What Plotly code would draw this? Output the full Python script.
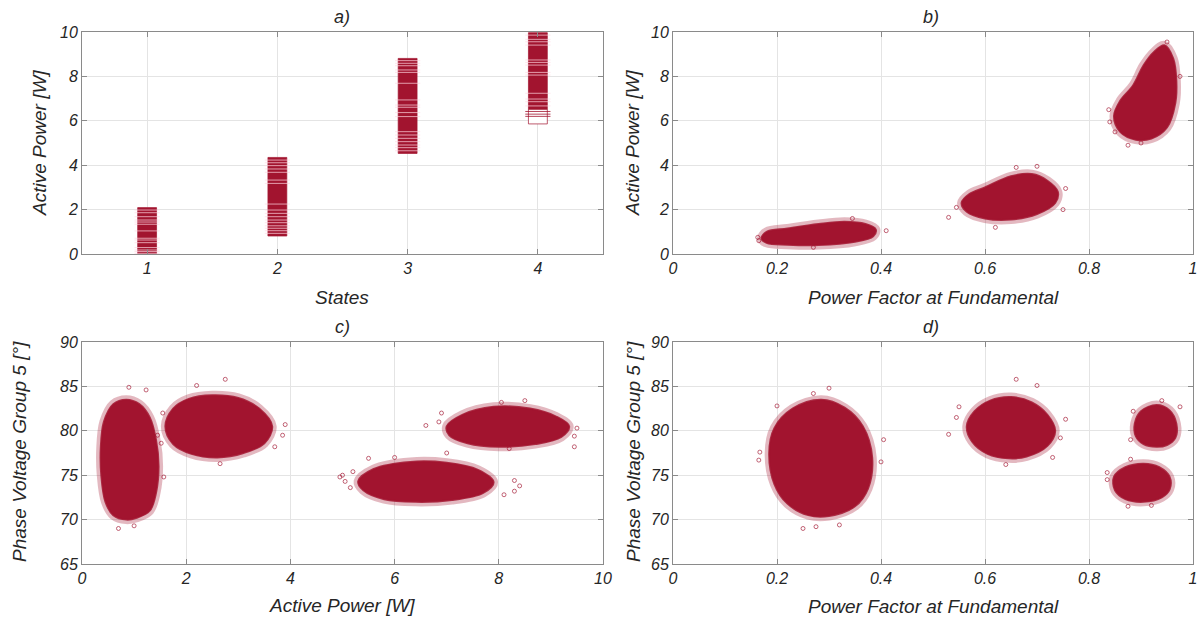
import plotly.graph_objects as go

RED = "rgb(162,20,47)"
FRINGE = "rgba(162,20,47,0.30)"
OUT = "rgba(162,20,47,0.65)"
FONT = "Liberation Sans"
TXT = "#262626"

# ---------------- panel a: states vs active power ----------------
states = [1, 2, 3, 4]
state_min = [-0.09, 0.81, 4.53, 5.86]
state_max = [2.09, 4.35, 8.81, 9.97]
dense_lo = [-0.09, 0.81, 4.53, 6.5]
dense_hi = [2.09, 4.35, 8.81, 9.97]
gap_state = [1]*14 + [2]*17 + [3]*18 + [4]*13
gap_value = [1.98, 1.86, 1.68, 1.53, 1.44, 1.34, 1.04, 0.71, 0.63, 0.51, 0.29, 0.18, 0.11, 0.03,
             4.23, 4.11, 3.98, 3.83, 3.68, 3.33, 3.18, 2.25, 1.98, 1.83, 1.68, 1.53, 1.41, 1.27, 1.16, 1.05, 0.93,
             8.71, 8.59, 8.48, 8.29, 8.18, 7.69, 6.94, 6.71, 6.61, 6.37, 6.19, 5.51, 5.36, 5.21, 5.06, 4.91, 4.79, 4.65,
             9.86, 9.67, 9.56, 9.41, 8.74, 8.63, 8.51, 8.18, 8.06, 7.24, 6.98, 6.86, 6.67]
sparse_state = [4, 4, 4]
sparse_value = [6.42, 6.3, 6.2]

# ---------------- panel b: PF vs active power (cluster outlines) ----------------
b_clusters = {
    "b1": ([0.18, 0.22, 0.28, 0.33, 0.37, 0.39, 0.385, 0.35, 0.28, 0.22, 0.18, 0.17],
           [1.0, 1.15, 1.35, 1.45, 1.35, 1.1, 0.8, 0.55, 0.4, 0.42, 0.5, 0.7]),
    "b2": ([0.6, 0.65, 0.69, 0.72, 0.74, 0.735, 0.7, 0.65, 0.6, 0.565, 0.555, 0.57],
           [3.0, 3.5, 3.6, 3.3, 2.8, 2.3, 1.8, 1.55, 1.6, 1.9, 2.3, 2.7]),
    "b3": ([0.945, 0.962, 0.968, 0.966, 0.95, 0.92, 0.89, 0.86, 0.848, 0.86, 0.885, 0.905, 0.925],
           [9.4, 8.8, 7.8, 6.8, 5.7, 5.2, 5.15, 5.5, 6.2, 6.9, 7.6, 8.5, 9.1]),
}
b_out_x = [0.163, 0.165, 0.41, 0.345, 0.27, 0.53, 0.545, 0.755, 0.75, 0.70, 0.66, 0.62,
           0.95, 0.838, 0.84, 0.85, 0.875, 0.90, 0.975]
b_out_y = [0.75, 0.6, 1.05, 1.6, 0.3, 1.65, 2.1, 2.95, 2.0, 3.95, 3.9, 1.2,
           9.55, 6.5, 5.95, 5.5, 4.9, 5.0, 8.0]

# ---------------- panel c: active power vs phase voltage group 5 ----------------
c_clusters = {
    "c1": ([0.85, 1.1, 1.3, 1.42, 1.47, 1.42, 1.3, 1.05, 0.85, 0.6, 0.45, 0.37, 0.36, 0.42, 0.6],
           [83.5, 83.0, 81.5, 79.0, 76.0, 73.0, 71.0, 70.2, 70.0, 70.5, 72.0, 75.0, 78.0, 81.0, 83.0]),
    "c2": ([2.5, 3.0, 3.4, 3.65, 3.5, 3.1, 2.6, 2.1, 1.75, 1.6, 1.75, 2.05],
           [84.0, 83.7, 82.5, 80.5, 78.6, 77.5, 77.0, 77.4, 78.5, 80.5, 82.5, 83.6]),
    "c3": ([6.3, 7.0, 7.6, 7.9, 7.7, 7.1, 6.4, 5.8, 5.4, 5.3, 5.6],
           [76.5, 76.4, 75.6, 74.2, 73.0, 72.2, 72.0, 72.3, 73.3, 74.3, 75.7]),
    "c4": ([7.9, 8.6, 9.1, 9.35, 9.2, 8.7, 8.0, 7.4, 7.05, 7.0, 7.3],
           [82.7, 82.5, 81.6, 80.5, 79.3, 78.5, 78.2, 78.6, 79.5, 80.5, 81.8]),
}
c_out_x = [0.9, 1.23, 0.7, 1.0, 1.57, 1.52, 2.75, 2.2, 3.85, 3.9, 3.7, 2.65, 1.45, 1.55,
           4.95, 5.05, 5.15, 5.0, 5.2, 8.3, 8.4, 8.3, 8.1, 7.0, 6.0, 5.5,
           6.6, 6.9, 6.85, 9.5, 9.45, 8.05, 8.5, 9.45, 8.2]
c_out_y = [84.9, 84.6, 69.0, 69.3, 74.8, 78.6, 85.8, 85.1, 79.5, 80.7, 78.2, 76.3, 79.5, 82.0,
           74.8, 74.3, 73.6, 75.0, 75.4, 74.4, 73.8, 73.2, 72.8, 77.5, 77.0, 76.9,
           80.6, 82.0, 81.0, 80.3, 79.4, 83.2, 83.4, 78.2, 78.0]

# ---------------- panel d: PF vs phase voltage group 5 ----------------
d_clusters = {
    "d1": ([0.285, 0.33, 0.365, 0.383, 0.375, 0.35, 0.3, 0.26, 0.22, 0.195, 0.185, 0.195, 0.23],
           [83.5, 82.6, 80.5, 77.0, 73.5, 71.5, 70.4, 70.5, 71.8, 74.0, 77.5, 80.3, 82.5]),
    "d2": ([0.65, 0.69, 0.72, 0.735, 0.72, 0.68, 0.645, 0.605, 0.575, 0.565, 0.58, 0.61],
           [83.8, 83.2, 81.8, 80.0, 78.3, 77.1, 76.9, 77.4, 78.8, 80.5, 82.2, 83.4]),
    "d3": ([0.905, 0.935, 0.955, 0.955, 0.94, 0.905, 0.87, 0.85, 0.848, 0.87],
           [76.3, 75.9, 74.8, 73.4, 72.5, 72.0, 72.3, 73.3, 74.8, 75.9]),
    "d4": ([0.93, 0.955, 0.968, 0.966, 0.95, 0.93, 0.905, 0.89, 0.888, 0.9],
           [82.9, 82.3, 80.8, 79.2, 78.4, 78.2, 78.5, 79.4, 80.8, 82.2]),
}
d_out_x = [0.3, 0.27, 0.165, 0.167, 0.405, 0.40, 0.25, 0.275, 0.32, 0.2,
           0.66, 0.70, 0.53, 0.545, 0.55, 0.755, 0.745, 0.73, 0.64,
           0.835, 0.835, 0.875, 0.92, 0.88, 0.885, 0.88, 0.94, 0.975]
d_out_y = [84.8, 84.2, 76.7, 77.6, 79.0, 76.5, 69.0, 69.2, 69.4, 82.8,
           85.8, 85.1, 79.6, 81.5, 82.7, 81.3, 79.2, 77.0, 76.2,
           75.3, 74.5, 71.5, 71.6, 76.8, 82.2, 79.0, 83.4, 82.7]

fig = go.Figure()

# panel a
fig.add_trace(go.Bar(x=states, y=[hi - lo for lo, hi in zip(state_min, state_max)], base=state_min,
                     width=0.145, marker=dict(color="rgba(255,255,255,1)", line=dict(color="rgba(162,20,47,0.7)", width=1)),
                     xaxis="x", yaxis="y", showlegend=False))
fig.add_trace(go.Bar(x=states, y=[hi - lo for lo, hi in zip(dense_lo, dense_hi)], base=dense_lo,
                     width=0.145, marker=dict(color=RED, line=dict(color=RED, width=0)),
                     xaxis="x", yaxis="y", showlegend=False))
fig.add_trace(go.Scatter(x=gap_state, y=gap_value, mode="markers",
                         marker=dict(symbol="line-ew", size=18, line=dict(color="rgba(255,215,225,0.7)", width=1)),
                         xaxis="x", yaxis="y", showlegend=False))
fig.add_trace(go.Scatter(x=sparse_state, y=sparse_value, mode="markers",
                         marker=dict(symbol="line-ew", size=18, line=dict(color="rgba(162,20,47,0.8)", width=1)),
                         xaxis="x", yaxis="y", showlegend=False))


def add_clusters(clusters, ox, oy, xa, ya):
    for name, (xs, ys) in clusters.items():
        cx = list(xs) + [xs[0]]
        cy = list(ys) + [ys[0]]
        fig.add_trace(go.Scatter(x=cx, y=cy, mode="lines", line=dict(color=FRINGE, width=9, shape="spline"),
                                 xaxis=xa, yaxis=ya, showlegend=False, hoverinfo="skip"))
        fig.add_trace(go.Scatter(x=cx, y=cy, mode="lines", fill="toself", fillcolor=RED,
                                 line=dict(color="rgba(162,20,47,0.85)", width=2, shape="spline"),
                                 xaxis=xa, yaxis=ya, showlegend=False, name=name))
    fig.add_trace(go.Scatter(x=ox, y=oy, mode="markers",
                             marker=dict(symbol="circle-open", size=4, color=OUT, line=dict(width=1, color=OUT)),
                             xaxis=xa, yaxis=ya, showlegend=False))


add_clusters(b_clusters, b_out_x, b_out_y, "x2", "y2")
add_clusters(c_clusters, c_out_x, c_out_y, "x3", "y3")
add_clusters(d_clusters, d_out_x, d_out_y, "x4", "y4")

W, H = 1201, 620
L_dom = [82 / W, 603 / W]
R_dom = [673 / W, 1193 / W]
T_dom = [(H - 254) / H, (H - 32) / H]
B_dom = [(H - 564) / H, (H - 342) / H]

tickfont = dict(family=FONT, size=16, color=TXT, style="italic")


def ax(domain, rng, tickvals, ticktext, anchor):
    return dict(domain=domain, range=rng, tickvals=tickvals, ticktext=ticktext, anchor=anchor,
                automargin=False,
                showline=True, linecolor="#8a8a8a", linewidth=1, mirror="ticks",
                ticks="inside", ticklen=5, tickcolor="#8a8a8a", tickwidth=1,
                showgrid=True, gridcolor="#e4e4e4", gridwidth=1, zeroline=False,
                tickfont=tickfont, fixedrange=True)


pf_ticks = [0, 0.2, 0.4, 0.6, 0.8, 1]
pf_text = ["0", "0.2", "0.4", "0.6", "0.8", "1"]
p_ticks = [0, 2, 4, 6, 8, 10]
p_text = [str(v) for v in p_ticks]
v_ticks = [65, 70, 75, 80, 85, 90]
v_text = [str(v) for v in v_ticks]

fig.update_layout(
    template="none",
    width=W, height=H, margin=dict(l=0, r=0, t=0, b=0, autoexpand=False),
    paper_bgcolor="white", plot_bgcolor="white", barmode="overlay",
    xaxis=ax(L_dom, [0.5, 4.5], states, [str(s) for s in states], "y"),
    yaxis=ax(T_dom, [0, 10], p_ticks, p_text, "x"),
    xaxis2=ax(R_dom, [0, 1], pf_ticks, pf_text, "y2"),
    yaxis2=ax(T_dom, [0, 10], p_ticks, p_text, "x2"),
    xaxis3=ax(L_dom, [0, 10], p_ticks, p_text, "y3"),
    yaxis3=ax(B_dom, [65, 90], v_ticks, v_text, "x3"),
    xaxis4=ax(R_dom, [0, 1], pf_ticks, pf_text, "y4"),
    yaxis4=ax(B_dom, [65, 90], v_ticks, v_text, "x4"),
)

labfont = dict(family=FONT, size=19, color=TXT, style="italic")
titfont = dict(family=FONT, size=18, color=TXT, style="italic")


def px(x, y, text, font, angle=0):
    fig.add_annotation(x=x / W, y=(H - y) / H, xref="paper", yref="paper", text=text, showarrow=False,
                       font=font, textangle=angle, xanchor="center", yanchor="middle")


px(342, 17, "a)", titfont)
px(931, 17, "b)", titfont)
px(342, 327, "c)", titfont)
px(931, 327, "d)", titfont)
px(342, 297, "States", labfont)
px(933, 297, "Power Factor at Fundamental", labfont)
px(342, 605, "Active Power [W]", labfont)
px(933, 606, "Power Factor at Fundamental", labfont)
px(40, 143, "Active Power [W]", labfont, -90)
px(633, 143, "Active Power [W]", labfont, -90)
px(19, 452, "Phase Voltage Group 5 [°]", labfont, -90)
px(633, 452, "Phase Voltage Group 5 [°]", labfont, -90)

fig.write_html("out.html", config={"displayModeBar": False},
               post_script="document.body.style.margin='0px';document.body.style.overflow='hidden';")
